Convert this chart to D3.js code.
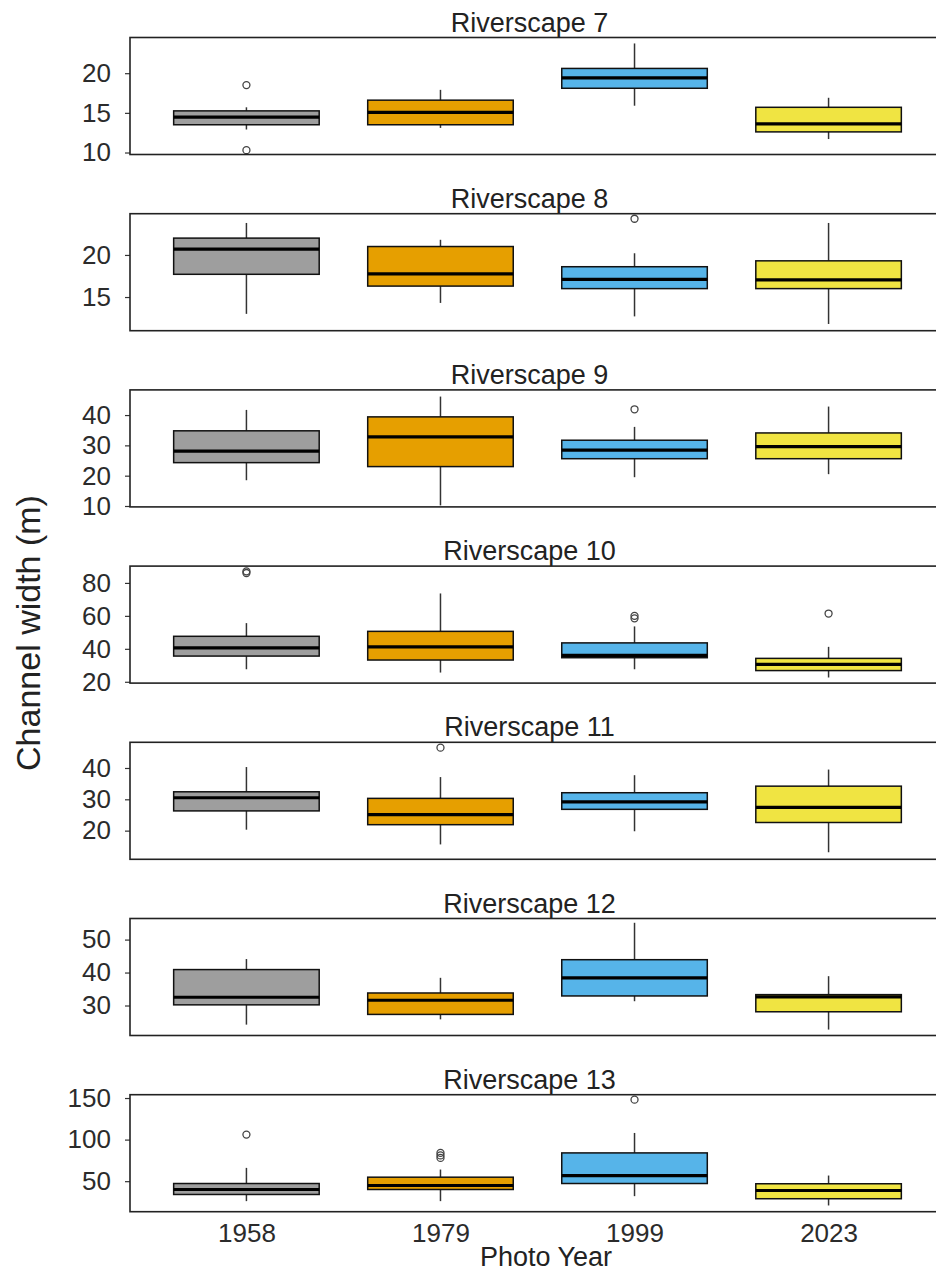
<!DOCTYPE html>
<html>
<head>
<meta charset="utf-8">
<script src="https://cdn.jsdelivr.net/npm/d3@7"></script>
<style>
  body { margin: 0; background: #fff; }
  text { font-family: "Liberation Sans", Arial, sans-serif; }
</style>
</head>
<body>
<div id="chart"></div>
<script>
// panel names, years, colours
const riverscapes = ["Riverscape 7", "Riverscape 8", "Riverscape 9", "Riverscape 10",
                     "Riverscape 11", "Riverscape 12", "Riverscape 13"];
const years = ["1958", "1979", "1999", "2023"];
const yearColors = ["#9e9e9e", "#E69F00", "#56B4E9", "#F0E442"];

// box stats per panel, one value per year
const whiskerLow = [
  [12.9, 13.1, 15.9, 11.7],
  [13.0, 14.3, 12.7, 11.8],
  [18.5, 10.2, 19.5, 20.5],
  [27.6, 25.6, 27.6, 22.6],
  [20.3, 15.6, 19.8, 13.1],
  [24.2, 25.8, 31.3, 22.7],
  [26, 26, 32, 20.8]
];
const q1 = [
  [13.5, 13.5, 18.1, 12.6],
  [17.7, 16.3, 16.0, 16.0],
  [24.3, 23.0, 25.6, 25.6],
  [35.6, 33.2, 34.6, 26.8],
  [26.3, 21.9, 26.8, 22.6],
  [30.2, 27.3, 32.9, 28.1],
  [34, 40, 47.2, 28.9]
];
const median = [
  [14.45, 15.05, 19.4, 13.6],
  [20.7, 17.75, 17.1, 17.05],
  [28.1, 32.8, 28.4, 29.6],
  [40.6, 41.2, 36.0, 30.6],
  [30.5, 25.1, 29.2, 27.4],
  [32.5, 31.6, 38.4, 32.6],
  [40, 44.8, 56.8, 38.8]
];
const q3 = [
  [15.25, 16.6, 20.6, 15.7],
  [22.0, 21.0, 18.6, 19.3],
  [34.8, 39.4, 31.7, 34.1],
  [47.6, 50.6, 43.6, 34.2],
  [32.4, 30.3, 32.1, 34.2],
  [40.9, 33.8, 43.9, 33.3],
  [47.2, 54.8, 84, 46.9]
];
const whiskerHigh = [
  [15.7, 17.9, 23.75, 16.9],
  [23.8, 21.8, 20.2, 23.8],
  [41.7, 46.1, 36.1, 42.8],
  [55.6, 73.6, 53.6, 41.2],
  [40.3, 37.1, 37.7, 39.5],
  [44.1, 38.4, 55.1, 38.9],
  [66, 64, 108, 56.8]
];
const outliers = [
  [[18.5, 10.3], [], [], []],
  [[], [], [24.3], []],
  [[], [], [41.9], []],
  [[86, 87], [], [58.5, 60], [61.4]],
  [[], [46.5], [], []],
  [[], [], [], []],
  [[106], [78, 81, 84], [148], []]
];

// y ranges and tick labels per panel
const yDomains = [[9.75, 24.5], [11.0, 24.9], [9.7, 48.3], [19.2, 90.2],
                  [10.85, 48.2], [20.9, 56.4], [13.3, 154]];
const yTicks = [[10, 15, 20], [15, 20], [10, 20, 30, 40], [20, 40, 60, 80],
                [20, 30, 40], [30, 40, 50], [50, 100, 150]];

const width = 936, height = 1272;
const plotLeft = 130, plotRight = 945;
const panelTop0 = 37.5, panelStep = 176.2, panelH = 117;

const svg = d3.select("#chart").append("svg")
  .attr("width", width)
  .attr("height", height);

const x = d3.scalePoint()
  .domain(years)
  .range([plotLeft, plotRight])
  .padding(0.6);
const step = x.step();
const boxW = step * 0.75;

riverscapes.forEach((name, i) => {
  const top = panelTop0 + i * panelStep;
  const y = d3.scaleLinear().domain(yDomains[i]).range([top + panelH, top]);

  const g = svg.append("g");

  // panel title
  g.append("text")
    .attr("x", (plotLeft + plotRight) / 2 - 8)
    .attr("y", top - 6)
    .attr("text-anchor", "middle")
    .attr("font-size", 27)
    .attr("fill", "#222")
    .text(name);

  // y axis
  const ax = g.append("g")
    .attr("transform", `translate(${plotLeft},0)`)
    .call(d3.axisLeft(y).tickValues(yTicks[i]).tickSize(5).tickPadding(14));
  ax.select(".domain").remove();
  ax.selectAll(".tick line").attr("stroke", "#333").attr("stroke-width", 1.2);
  ax.selectAll(".tick text")
    .attr("font-size", 26)
    .attr("fill", "#2b2b2b")
    .attr("font-family", "Liberation Sans, Arial, sans-serif");

  const rows = years.map((yr, j) => ({
    year: yr, color: yearColors[j],
    lo: whiskerLow[i][j], q1: q1[i][j], med: median[i][j],
    q3: q3[i][j], hi: whiskerHigh[i][j], out: outliers[i][j]
  }));

  const b = g.selectAll(".box").data(rows).join("g").attr("class", "box");

  // whiskers
  b.append("line")
    .attr("x1", d => x(d.year)).attr("x2", d => x(d.year))
    .attr("y1", d => y(d.hi)).attr("y2", d => y(d.q3))
    .attr("stroke", "#333").attr("stroke-width", 1.5);
  b.append("line")
    .attr("x1", d => x(d.year)).attr("x2", d => x(d.year))
    .attr("y1", d => y(d.q1)).attr("y2", d => y(d.lo))
    .attr("stroke", "#333").attr("stroke-width", 1.5);

  // boxes
  b.append("rect")
    .attr("x", d => x(d.year) - boxW / 2)
    .attr("width", boxW)
    .attr("y", d => y(d.q3))
    .attr("height", d => y(d.q1) - y(d.q3))
    .attr("fill", d => d.color)
    .attr("stroke", "#111")
    .attr("stroke-width", 1.5);

  // medians
  b.append("line")
    .attr("x1", d => x(d.year) - boxW / 2).attr("x2", d => x(d.year) + boxW / 2)
    .attr("y1", d => y(d.med)).attr("y2", d => y(d.med))
    .attr("stroke", "#000").attr("stroke-width", 3.2);

  // outliers
  b.selectAll("circle").data(d => d.out.map(v => ({ year: d.year, v })))
    .join("circle")
    .attr("cx", d => x(d.year))
    .attr("cy", d => y(d.v))
    .attr("r", 3.5)
    .attr("fill", "none")
    .attr("stroke", "#444")
    .attr("stroke-width", 1.3);

  // panel border
  g.append("rect")
    .attr("x", plotLeft).attr("y", top)
    .attr("width", plotRight - plotLeft).attr("height", panelH)
    .attr("fill", "none")
    .attr("stroke", "#222")
    .attr("stroke-width", 1.6);

  // x axis only under the last panel
  if (i === riverscapes.length - 1) {
    const xa = g.append("g")
      .attr("transform", `translate(0,${top + panelH})`)
      .call(d3.axisBottom(x).tickSize(0).tickPadding(12));
    xa.select(".domain").remove();
    xa.selectAll(".tick text")
      .attr("font-size", 26)
      .attr("fill", "#2b2b2b")
      .attr("font-family", "Liberation Sans, Arial, sans-serif");
  }
});

// axis titles
svg.append("text")
  .attr("transform", `translate(40,633) rotate(-90)`)
  .attr("text-anchor", "middle")
  .attr("font-size", 34)
  .attr("fill", "#222")
  .text("Channel width (m)");

svg.append("text")
  .attr("x", 546)
  .attr("y", 1266)
  .attr("text-anchor", "middle")
  .attr("font-size", 27)
  .attr("fill", "#222")
  .text("Photo Year");
</script>
</body>
</html>
